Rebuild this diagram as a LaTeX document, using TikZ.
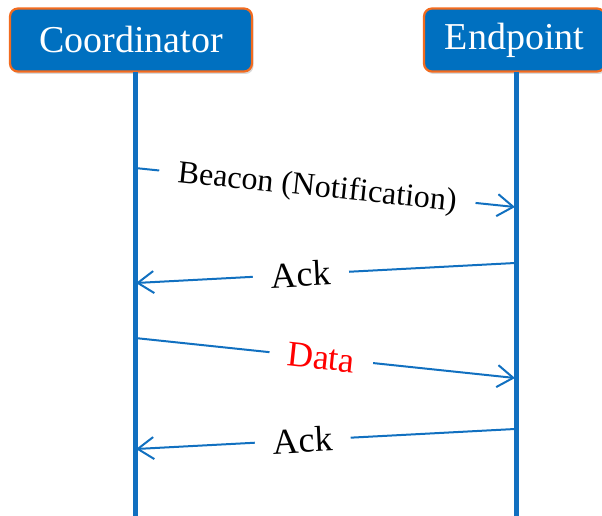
\documentclass[tikz,border=0pt]{standalone}
\usepackage{fontspec}
\setmainfont{Liberation Serif}
\usetikzlibrary{arrows.meta,shadows}
\definecolor{boxblue}{HTML}{0070C0}
\definecolor{boxorange}{HTML}{F26B1F}
\definecolor{lineblue}{HTML}{1170C0}
\tikzset{
  header/.style={draw=boxorange, line width=2.2pt, fill=boxblue, rounded corners=8pt,
    text=white, font=\fontsize{38}{40}\selectfont, inner sep=0pt,
    drop shadow={opacity=0.3, shadow xshift=1.5pt, shadow yshift=-2.5pt}},
  lifeline/.style={draw=lineblue, line width=5pt},
  msg/.style={draw=lineblue, line width=2pt, -{Straight Barb[length=16pt,width=22pt,line width=2pt]}},
  lbl/.style={fill=white, sloped, inner xsep=18pt, inner ysep=2pt, font=\fontsize{36}{38}\selectfont},
  smalllbl/.style={lbl, font=\fontsize{32}{34}\selectfont}
}
\begin{document}
\begin{tikzpicture}[x=1pt,y=-1pt]
\useasboundingbox (0,0) rectangle (602,516);
\node[header, minimum width=242pt, minimum height=63pt] (coord) at (131,40) {\raisebox{-2pt}{Coordinator}};
\node[header, minimum width=181pt, minimum height=63pt] (endp) at (514.5,40) {\raisebox{-2pt}{Endpoint}};
\coordinate (cbot) at (135,520);
\coordinate (ebot) at (516,520);
\coordinate (ctop) at (135,72);
\coordinate (etop) at (516,72);
\draw[lifeline] (ctop) -- (cbot);
\draw[lifeline] (etop) -- (ebot);
% messages
\coordinate (c1) at (135,168); \coordinate (e1) at (515,207);
\coordinate (e2) at (515,263); \coordinate (c2) at (136,283);
\coordinate (c3) at (135,338); \coordinate (e3) at (515,378);
\coordinate (e4) at (515,429); \coordinate (c4) at (136,449);
\draw[msg] (c1) -- node[smalllbl, pos=0.48, inner xsep=19pt, yshift=-2pt] (m1) {Beacon (Notification)} (e1);
\draw[msg] (e2) -- node[lbl, pos=0.565] (m2) {Ack} (c2);
\draw[msg] (c3) -- node[lbl, pos=0.49, text=red] (m3) {Data} (e3);
\draw[msg] (e4) -- node[lbl, pos=0.56] (m4) {Ack} (c4);
\end{tikzpicture}
\end{document}
